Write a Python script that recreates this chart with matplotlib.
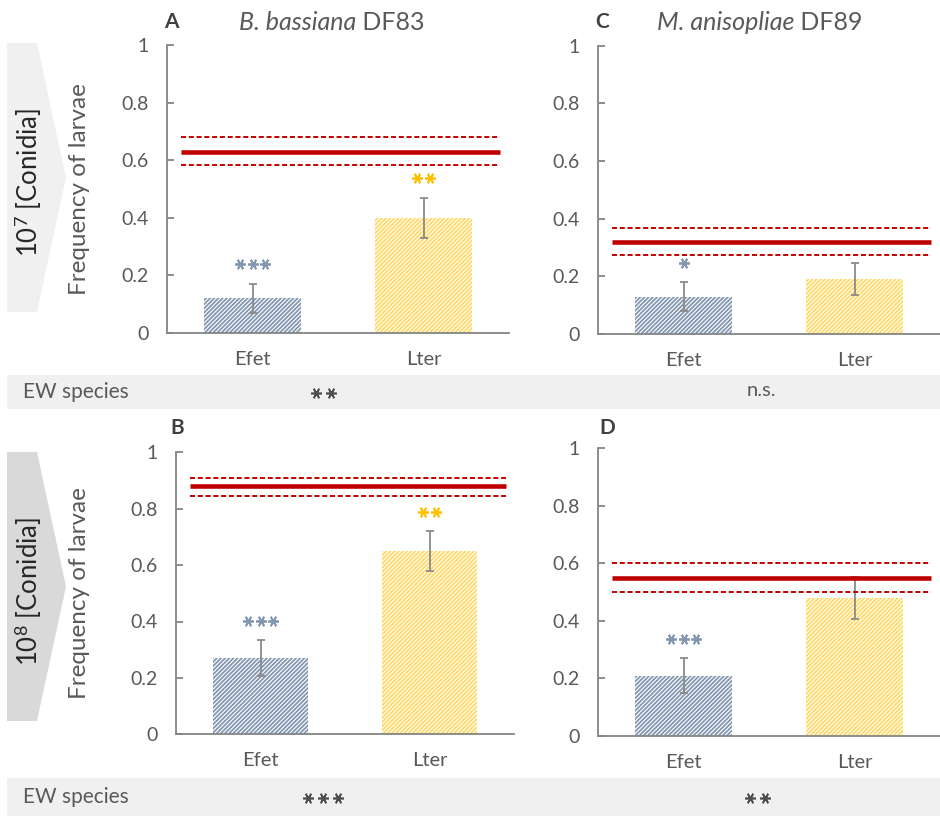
import matplotlib
matplotlib.use("Agg")
import matplotlib.pyplot as plt
from matplotlib.patches import Polygon, Rectangle
from matplotlib.lines import Line2D
from matplotlib.transforms import ScaledTranslation

plt.rcParams["font.family"] = ["Lato", "DejaVu Sans"]
plt.rcParams["mathtext.fontset"] = "custom"
plt.rcParams["mathtext.rm"] = "Lato"
plt.rcParams["mathtext.it"] = "Lato:italic"
plt.rcParams["hatch.linewidth"] = 1.3

# ---- data -------------------------------------------------------------
species = ["Efet", "Lter"]
yticks = [0, 0.2, 0.4, 0.6, 0.8, 1]
dose_labels = [r"10$^{\mathrm{7}}$ [Conidia]", r"10$^{\mathrm{8}}$ [Conidia]"]
fungus_italic = ["B. bassiana", "M. anisopliae"]
fungus_strain = ["DF83", "DF89"]
panel_letters = ["A", "C", "B", "D"]

# mean frequency per earthworm species, error, and control band (mean, low, high)
A_mean = [0.12, 0.40]
A_err = [0.05, 0.07]
A_ctrl = [0.63, 0.583, 0.68]
A_sig = [3, 2]

C_mean = [0.13, 0.19]
C_err = [0.05, 0.056]
C_ctrl = [0.32, 0.275, 0.366]
C_sig = [1, 0]

B_mean = [0.27, 0.65]
B_err = [0.065, 0.07]
B_ctrl = [0.88, 0.845, 0.91]
B_sig = [3, 2]

D_mean = [0.21, 0.48]
D_err = [0.06, 0.074]
D_ctrl = [0.55, 0.50, 0.60]
D_sig = [3, 0]

# earthworm-species effect per panel: number of stars, 0 = n.s.
ew_sig_top = [2, 0]
ew_sig_bottom = [3, 2]

# ---- styling ------------------------------------------------------------
W, H = 940, 816
GREY_TXT = "#595959"
AXIS_COL = "#858585"
BAR_COLS = ["#8497b0", "#ffd966"]
STAR_COLS = ["#8497b0", "#ffc000"]
RED = "#c00000"
ERR_COL = "#8a8a8a"
STAR_MARKER = (6, 2, 90)


def fx(x):
    return x / W


def fy(y):
    return 1 - y / H


fig = plt.figure(figsize=(W / 100, H / 100), dpi=100)


def draw_stars(parent, base_transform, x, y, n, color, size, pitch_px, mew):
    """Row of n asterisks centred on (x, y), spaced pitch_px pixels apart."""
    for k in range(n):
        dx = (k - (n - 1) / 2) * pitch_px / 100.0
        tr = base_transform + ScaledTranslation(dx, 0, fig.dpi_scale_trans)
        ln = Line2D([x], [y], marker=STAR_MARKER, markersize=size,
                    markeredgewidth=mew, color=color, linestyle="none",
                    transform=tr, zorder=6)
        if parent is fig:
            fig.lines.append(ln)
        else:
            parent.add_artist(ln)


# side chevrons with dose labels
for (top, bot, col), lab in zip([(43, 312, "#f0f0f0"), (452, 721, "#d9d9d9")], dose_labels):
    mid = (top + bot) / 2
    pts = [(7, top), (37, top), (66, mid), (37, bot), (7, bot)]
    fig.patches.append(Polygon([(fx(x), fy(y)) for x, y in pts], closed=True,
                               transform=fig.transFigure, facecolor=col,
                               edgecolor="none", zorder=0))
    fig.text(fx(28), fy(mid + 5), lab, rotation=90, ha="center", va="center",
             fontsize=18.5, color="#262626")

# grey "EW species" bands
for top, bot, sigs in [(375, 409, ew_sig_top), (778, 816, ew_sig_bottom)]:
    fig.patches.append(Rectangle((fx(7), fy(bot)), fx(W - 7), (bot - top) / H,
                                 transform=fig.transFigure, facecolor="#f0f0f0",
                                 edgecolor="none", zorder=0))
    yc = (top + bot) / 2
    fig.text(fx(23), fy(yc), "EW species", ha="left", va="center",
             fontsize=15, color=GREY_TXT)
    for xc, s in zip([323, 757], sigs):
        if s == 0:
            fig.text(fx(xc + 4), fy(yc - 2), "n.s.", ha="center", va="center",
                     fontsize=14.5, color=GREY_TXT)
        else:
            draw_stars(fig, fig.transFigure, fx(xc), fy(yc + 1), s, "#4d4d4d",
                       7.8, 15, 1.2)

# panels: (left, top, right, bottom) in pixels
panels = [
    ((167, 45, 509, 333), A_mean, A_err, A_ctrl, A_sig, True),
    ((598, 45.7, 940, 334), C_mean, C_err, C_ctrl, C_sig, False),
    ((176, 452.3, 514, 734.3), B_mean, B_err, B_ctrl, B_sig, True),
    ((598, 448.3, 940, 736), D_mean, D_err, D_ctrl, D_sig, False),
]

x = [0, 1]
for (l, t, r, b), mean, err, ctrl, sig, show_ylabel in panels:
    ax = fig.add_axes([fx(l), fy(b), (r - l) / W, (b - t) / H])
    ax.set_xlim(-0.5, 1.5)
    ax.set_ylim(0, 1)
    for i in range(2):
        ax.bar(x[i], mean[i], width=0.567, facecolor="white",
               edgecolor=BAR_COLS[i], hatch="////////", linewidth=0, zorder=2)
    ax.errorbar(x, mean, yerr=err, fmt="none", ecolor=ERR_COL,
                elinewidth=1.3, capsize=3, capthick=1.3, zorder=3)
    ax.hlines(ctrl[0], -0.42, 1.45, color=RED, linewidth=3.3, zorder=4)
    ax.hlines(ctrl[1:], -0.42, 1.45, color=RED, linewidth=1.4,
              linestyles=(0, (2.6, 1.4)), zorder=4)
    for i in range(2):
        if sig[i]:
            draw_stars(ax, ax.transData, x[i], mean[i] + err[i] + 0.068,
                       sig[i], STAR_COLS[i], 7.8, 12.8, 1.3)
    ax.set_yticks(yticks)
    ax.set_yticklabels([f"{v:g}" for v in yticks])
    ax.set_xticks(x)
    ax.set_xticklabels(species)
    for side in ("top", "right"):
        ax.spines[side].set_visible(False)
    for side in ("left", "bottom"):
        ax.spines[side].set_color(AXIS_COL)
        ax.spines[side].set_linewidth(1.3)
    ax.tick_params(axis="y", direction="in", length=5, width=1.3,
                   color=AXIS_COL, labelsize=14, labelcolor=GREY_TXT, pad=13)
    ax.tick_params(axis="x", length=0, labelsize=14.5, labelcolor=GREY_TXT, pad=13)
    ax.set_facecolor("none")
    if show_ylabel:
        ax.set_ylabel("Frequency of larvae", fontsize=17.5, color=GREY_TXT)
        ax.yaxis.set_label_coords((90 - l) / (r - l), 0.5)

# panel letters
for (px_, py_), letter in zip([(171, 22), (602, 22), (177, 428), (607, 428)], panel_letters):
    fig.text(fx(px_), fy(py_), letter, ha="center", va="center",
             fontsize=15, fontweight="bold", color="#404040")

# column titles: italic genus/species followed by strain code
fig.canvas.draw()
renderer = fig.canvas.get_renderer()
for xc, it, st in zip([332, 760], fungus_italic, fungus_strain):
    t1 = fig.text(0, fy(22), it, ha="left", va="center", fontsize=18,
                  style="italic", color=GREY_TXT)
    t2 = fig.text(0, fy(22), " " + st, ha="left", va="center", fontsize=18,
                  color=GREY_TXT)
    w1 = t1.get_window_extent(renderer).width
    w2 = t2.get_window_extent(renderer).width
    x0 = xc - (w1 + w2) / 2
    t1.set_x(fx(x0))
    t2.set_x(fx(x0 + w1))

fig.savefig("out.png", dpi=100)
